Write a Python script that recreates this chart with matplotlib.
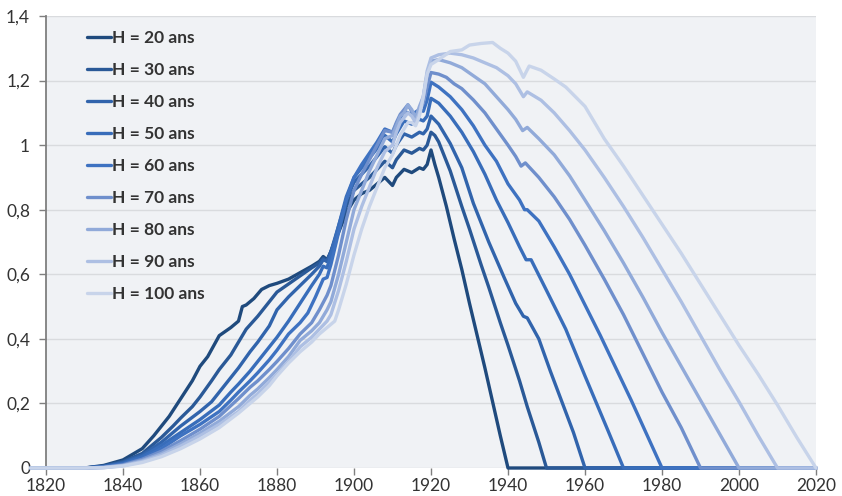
import matplotlib
matplotlib.use("Agg")
import matplotlib.pyplot as plt

plt.rcParams['font.family'] = ['Lato', 'DejaVu Sans']

labels = ["H = 20 ans", "H = 30 ans", "H = 40 ans", "H = 50 ans", "H = 60 ans",
          "H = 70 ans", "H = 80 ans", "H = 90 ans", "H = 100 ans"]
colors = ["#1f4a7d", "#2a5997", "#3164ac", "#386dba", "#3e72c1",
          "#6f8fcc", "#91aad9", "#adbfe3", "#c8d4ea"]

years_h20 = [1816, 1830, 1835, 1840, 1845, 1848, 1850, 1852, 1855, 1858, 1860, 1862, 1865, 1868, 1870, 1871, 1872, 1874, 1876, 1878, 1880, 1883, 1886, 1889, 1891, 1892, 1893, 1894, 1896, 1898, 1900, 1902, 1904, 1906, 1908, 1910, 1911, 1913, 1915, 1917, 1918, 1919, 1920, 1921, 1922, 1924, 1926, 1928, 1930, 1932, 1934, 1936, 1938, 1940, 2020]
vals_h20 = [0, 0, 0.008, 0.025, 0.06, 0.1, 0.13, 0.16, 0.215, 0.27, 0.315, 0.345, 0.41, 0.435, 0.455, 0.5, 0.505, 0.525, 0.553, 0.565, 0.572, 0.585, 0.605, 0.625, 0.64, 0.655, 0.645, 0.67, 0.73, 0.79, 0.83, 0.85, 0.86, 0.88, 0.9, 0.875, 0.9, 0.925, 0.915, 0.93, 0.925, 0.94, 0.985, 0.94, 0.9, 0.81, 0.71, 0.615, 0.51, 0.41, 0.31, 0.205, 0.1, 0, 0]

years_h30 = [1816, 1830, 1835, 1840, 1845, 1850, 1853, 1855, 1858, 1860, 1863, 1865, 1868, 1870, 1872, 1875, 1877, 1880, 1883, 1886, 1889, 1891, 1892, 1893, 1894, 1896, 1898, 1900, 1902, 1904, 1906, 1908, 1910, 1911, 1913, 1915, 1917, 1918, 1919, 1920, 1921, 1922, 1925, 1928, 1930, 1933, 1935, 1938, 1940, 1943, 1945, 1948, 1950, 2020]
vals_h30 = [0, 0, 0.006, 0.02, 0.045, 0.095, 0.13, 0.155, 0.19, 0.22, 0.27, 0.305, 0.35, 0.39, 0.43, 0.47, 0.5, 0.545, 0.57, 0.595, 0.62, 0.635, 0.65, 0.64, 0.67, 0.74, 0.81, 0.86, 0.88, 0.9, 0.925, 0.95, 0.93, 0.955, 0.985, 0.975, 0.99, 0.985, 1.0, 1.04, 1.03, 1.01, 0.92, 0.81, 0.74, 0.63, 0.56, 0.45, 0.38, 0.27, 0.19, 0.08, 0, 0]

years_h40 = [1816, 1830, 1835, 1840, 1845, 1850, 1855, 1860, 1863, 1865, 1868, 1870, 1873, 1875, 1878, 1880, 1883, 1886, 1889, 1891, 1892, 1893, 1894, 1896, 1898, 1900, 1902, 1904, 1906, 1908, 1910, 1911, 1913, 1915, 1917, 1918, 1919, 1920, 1922, 1925, 1928, 1931, 1935, 1939, 1942, 1944, 1945, 1948, 1951, 1954, 1957, 1960, 2020]
vals_h40 = [0, 0, 0.005, 0.017, 0.04, 0.08, 0.13, 0.175, 0.205, 0.235, 0.28, 0.31, 0.36, 0.39, 0.44, 0.49, 0.53, 0.565, 0.6, 0.625, 0.645, 0.64, 0.67, 0.75, 0.83, 0.885, 0.91, 0.935, 0.965, 0.995, 0.975, 1.0, 1.035, 1.025, 1.04, 1.035, 1.05, 1.09, 1.065, 1.005, 0.93, 0.82, 0.7, 0.59, 0.51, 0.47, 0.465, 0.4, 0.3, 0.205, 0.11, 0, 0]

years_h50 = [1816, 1830, 1835, 1840, 1845, 1850, 1855, 1860, 1865, 1868, 1870, 1873, 1875, 1878, 1880, 1883, 1886, 1889, 1891, 1892, 1893, 1894, 1896, 1898, 1900, 1902, 1904, 1906, 1908, 1910, 1911, 1913, 1915, 1917, 1918, 1919, 1920, 1922, 1925, 1928, 1931, 1934, 1937, 1940, 1943, 1944.7, 1946, 1950, 1955, 1960, 1963, 1966, 1970, 2020]
vals_h50 = [0, 0, 0.004, 0.014, 0.035, 0.07, 0.11, 0.15, 0.195, 0.235, 0.26, 0.3, 0.33, 0.375, 0.405, 0.455, 0.51, 0.565, 0.6, 0.625, 0.62, 0.66, 0.75, 0.84, 0.9, 0.93, 0.96, 0.99, 1.03, 1.01, 1.035, 1.075, 1.065, 1.08, 1.075, 1.09, 1.145, 1.13, 1.09, 1.04, 0.98, 0.91, 0.83, 0.76, 0.685, 0.645, 0.645, 0.55, 0.43, 0.285, 0.2, 0.115, 0, 0]

years_h60 = [1816, 1830, 1835, 1840, 1845, 1850, 1855, 1860, 1865, 1868, 1870, 1873, 1875, 1878, 1880, 1883, 1886, 1888, 1890, 1892, 1893, 1894, 1896, 1898, 1900, 1902, 1904, 1906, 1908, 1910, 1911, 1913, 1915, 1917, 1918, 1919, 1920, 1922, 1925, 1928, 1931, 1934, 1937, 1940, 1943, 1944.3, 1945, 1948, 1952, 1956, 1960, 1964, 1968, 1972, 1976, 1980, 2020]
vals_h60 = [0, 0, 0.003, 0.012, 0.03, 0.06, 0.1, 0.135, 0.175, 0.21, 0.235, 0.27, 0.295, 0.335, 0.365, 0.415, 0.45, 0.48, 0.53, 0.585, 0.59, 0.63, 0.73, 0.83, 0.9, 0.94, 0.975, 1.01, 1.05, 1.04, 1.065, 1.105, 1.095, 1.11, 1.105, 1.14, 1.195, 1.18, 1.15, 1.11, 1.06, 1.0, 0.95, 0.88, 0.83, 0.8, 0.8, 0.765, 0.685, 0.6, 0.505, 0.41, 0.31, 0.21, 0.105, 0, 0]

years_h70 = [1816, 1830, 1835, 1840, 1845, 1850, 1855, 1860, 1865, 1870, 1873, 1875, 1878, 1880, 1883, 1886, 1889, 1891, 1893, 1894, 1896, 1898, 1900, 1902, 1904, 1906, 1908, 1910, 1911, 1912, 1913, 1914, 1915, 1916, 1917, 1918, 1919, 1920, 1922, 1924, 1926, 1928, 1931, 1934, 1937, 1940, 1942, 1943.4, 1944.5, 1948, 1952, 1956, 1960, 1965, 1970, 1975, 1980, 1985, 1990, 2020]
vals_h70 = [0, 0, 0.002, 0.01, 0.027, 0.052, 0.085, 0.12, 0.16, 0.215, 0.25, 0.27, 0.305, 0.33, 0.37, 0.415, 0.45, 0.49, 0.535, 0.565, 0.66, 0.77, 0.86, 0.91, 0.955, 1.0, 1.045, 1.04, 1.07, 1.095, 1.11, 1.125, 1.105, 1.08, 1.11, 1.13, 1.18, 1.225, 1.22, 1.21, 1.19, 1.175, 1.14, 1.1, 1.05, 1.0, 0.965, 0.935, 0.945, 0.9, 0.84, 0.77, 0.69, 0.585, 0.475, 0.355, 0.235, 0.125, 0, 0]

years_h80 = [1816, 1830, 1835, 1840, 1845, 1850, 1855, 1860, 1865, 1870, 1873, 1875, 1878, 1880, 1883, 1886, 1889, 1891, 1893, 1894, 1896, 1898, 1900, 1902, 1904, 1906, 1908, 1910, 1911, 1912, 1913, 1914, 1915, 1916, 1917, 1918, 1919, 1920, 1922, 1925, 1928, 1931, 1934, 1937, 1940, 1942, 1943.8, 1945, 1948, 1952, 1956, 1960, 1965, 1970, 1975, 1980, 1985, 1990, 1995, 2000, 2020]
vals_h80 = [0, 0, 0.002, 0.008, 0.023, 0.045, 0.075, 0.108, 0.145, 0.19, 0.225, 0.245, 0.28, 0.305, 0.345, 0.395, 0.425, 0.45, 0.49, 0.515, 0.6, 0.7, 0.8, 0.86, 0.92, 0.97, 1.02, 1.03, 1.06, 1.09, 1.1, 1.125, 1.11, 1.085, 1.12, 1.15, 1.22, 1.26, 1.265, 1.255, 1.24, 1.215, 1.19, 1.15, 1.11, 1.08, 1.045, 1.055, 1.02, 0.97, 0.905, 0.83, 0.735, 0.635, 0.53, 0.42, 0.315, 0.21, 0.105, 0, 0]

years_h90 = [1816, 1830, 1835, 1840, 1845, 1850, 1855, 1860, 1865, 1870, 1873, 1875, 1878, 1880, 1883, 1886, 1889, 1891, 1893, 1894, 1896, 1898, 1900, 1902, 1904, 1906, 1908, 1910, 1911, 1912, 1913, 1914, 1915, 1916, 1917, 1918, 1919, 1920, 1922, 1925, 1928, 1931, 1934, 1937, 1940, 1942, 1944, 1945, 1948.6, 1952, 1956, 1960, 1965, 1970, 1975, 1980, 1985, 1990, 1995, 2000, 2005, 2010, 2020]
vals_h90 = [0, 0, 0.001, 0.007, 0.02, 0.04, 0.068, 0.1, 0.135, 0.175, 0.21, 0.23, 0.265, 0.29, 0.33, 0.375, 0.405, 0.43, 0.455, 0.475, 0.55, 0.64, 0.74, 0.81, 0.87, 0.93, 0.98, 1.0, 1.04, 1.07, 1.085, 1.1, 1.09, 1.07, 1.1, 1.15, 1.23, 1.27, 1.28, 1.285, 1.28, 1.27, 1.255, 1.24, 1.215, 1.19, 1.15, 1.165, 1.139, 1.1, 1.045, 0.985, 0.9, 0.81, 0.715, 0.615, 0.515, 0.41, 0.305, 0.205, 0.1, 0, 0]

years_h100 = [1816, 1830, 1835, 1840, 1845, 1850, 1855, 1860, 1865, 1870, 1873, 1875, 1878, 1880, 1883, 1886, 1889, 1891, 1893, 1895, 1896, 1898, 1900, 1902, 1904, 1906, 1908, 1910, 1911, 1912, 1913, 1914, 1915, 1916, 1917, 1918, 1919, 1920, 1922, 1925, 1928, 1930, 1933, 1936, 1938, 1940, 1942, 1944, 1945.5, 1948.6, 1952, 1955, 1960, 1965, 1970, 1975, 1980, 1985, 1990, 1995, 2000, 2005, 2010, 2015, 2020]
vals_h100 = [0, 0, 0.001, 0.006, 0.017, 0.035, 0.06, 0.09, 0.125, 0.17, 0.2, 0.22, 0.255, 0.285, 0.325, 0.36, 0.39, 0.415, 0.435, 0.455, 0.49, 0.57, 0.66, 0.74, 0.81, 0.87, 0.93, 0.97, 1.0, 1.03, 1.05, 1.07, 1.07, 1.06, 1.09, 1.15, 1.22, 1.25, 1.265, 1.29, 1.295, 1.31, 1.315, 1.318, 1.3, 1.285, 1.26, 1.21, 1.245, 1.232, 1.205, 1.18, 1.12, 1.02, 0.935, 0.845, 0.755, 0.665, 0.57, 0.475, 0.38, 0.29, 0.195, 0.095, 0]

series_years = [years_h20, years_h30, years_h40, years_h50, years_h60,
                years_h70, years_h80, years_h90, years_h100]
series_vals = [vals_h20, vals_h30, vals_h40, vals_h50, vals_h60,
               vals_h70, vals_h80, vals_h90, vals_h100]

y_ticks = [0, 0.2, 0.4, 0.6, 0.8, 1.0, 1.2, 1.4]
y_tick_labels = ["0", "0,2", "0,4", "0,6", "0,8", "1", "1,2", "1,4"]
x_ticks = [1820, 1840, 1860, 1880, 1900, 1920, 1940, 1960, 1980, 2000, 2020]

fig = plt.figure(figsize=(8.42, 4.96), dpi=100)
ax = fig.add_axes([46 / 842, 1 - 468 / 496, (816 - 46) / 842, (468 - 16) / 496])
ax.set_facecolor("#f0f2f5")

for yrs, vals, c, lab in zip(series_years, series_vals, colors, labels):
    ax.plot(yrs, vals, color=c, lw=2.4, label=lab, clip_on=False,
            solid_joinstyle="round", solid_capstyle="round", zorder=3)

ax.set_xlim(1820, 2020)
ax.set_ylim(0, 1.4)
ax.set_yticks(y_ticks)
ax.set_yticklabels(y_tick_labels)
ax.set_xticks(x_ticks)
ax.set_xticklabels([str(x) for x in x_ticks])
ax.grid(axis="y", color="#d9dbde", lw=1.0, zorder=0)
ax.set_axisbelow(True)

for s in ["top", "right", "bottom"]:
    ax.spines[s].set_visible(False)
ax.spines["left"].set_color("#7f7f7f")
ax.spines["left"].set_linewidth(1.3)
ax.tick_params(axis="y", length=5, width=1, color="#7f7f7f", labelsize=12.5,
               labelcolor="#333333", pad=6.5)
ax.tick_params(axis="x", length=5, width=1, color="#7f7f7f", labelsize=12.5,
               labelcolor="#333333", pad=2.5)

leg = ax.legend(loc="upper left", bbox_to_anchor=(0.033, 1.004), frameon=False,
                handlelength=1.4, handletextpad=0.05, labelspacing=0.92,
                prop={"weight": "bold", "size": 12.5})
for t in leg.get_texts():
    t.set_color("#333333")

fig.savefig("out.png", dpi=100)
